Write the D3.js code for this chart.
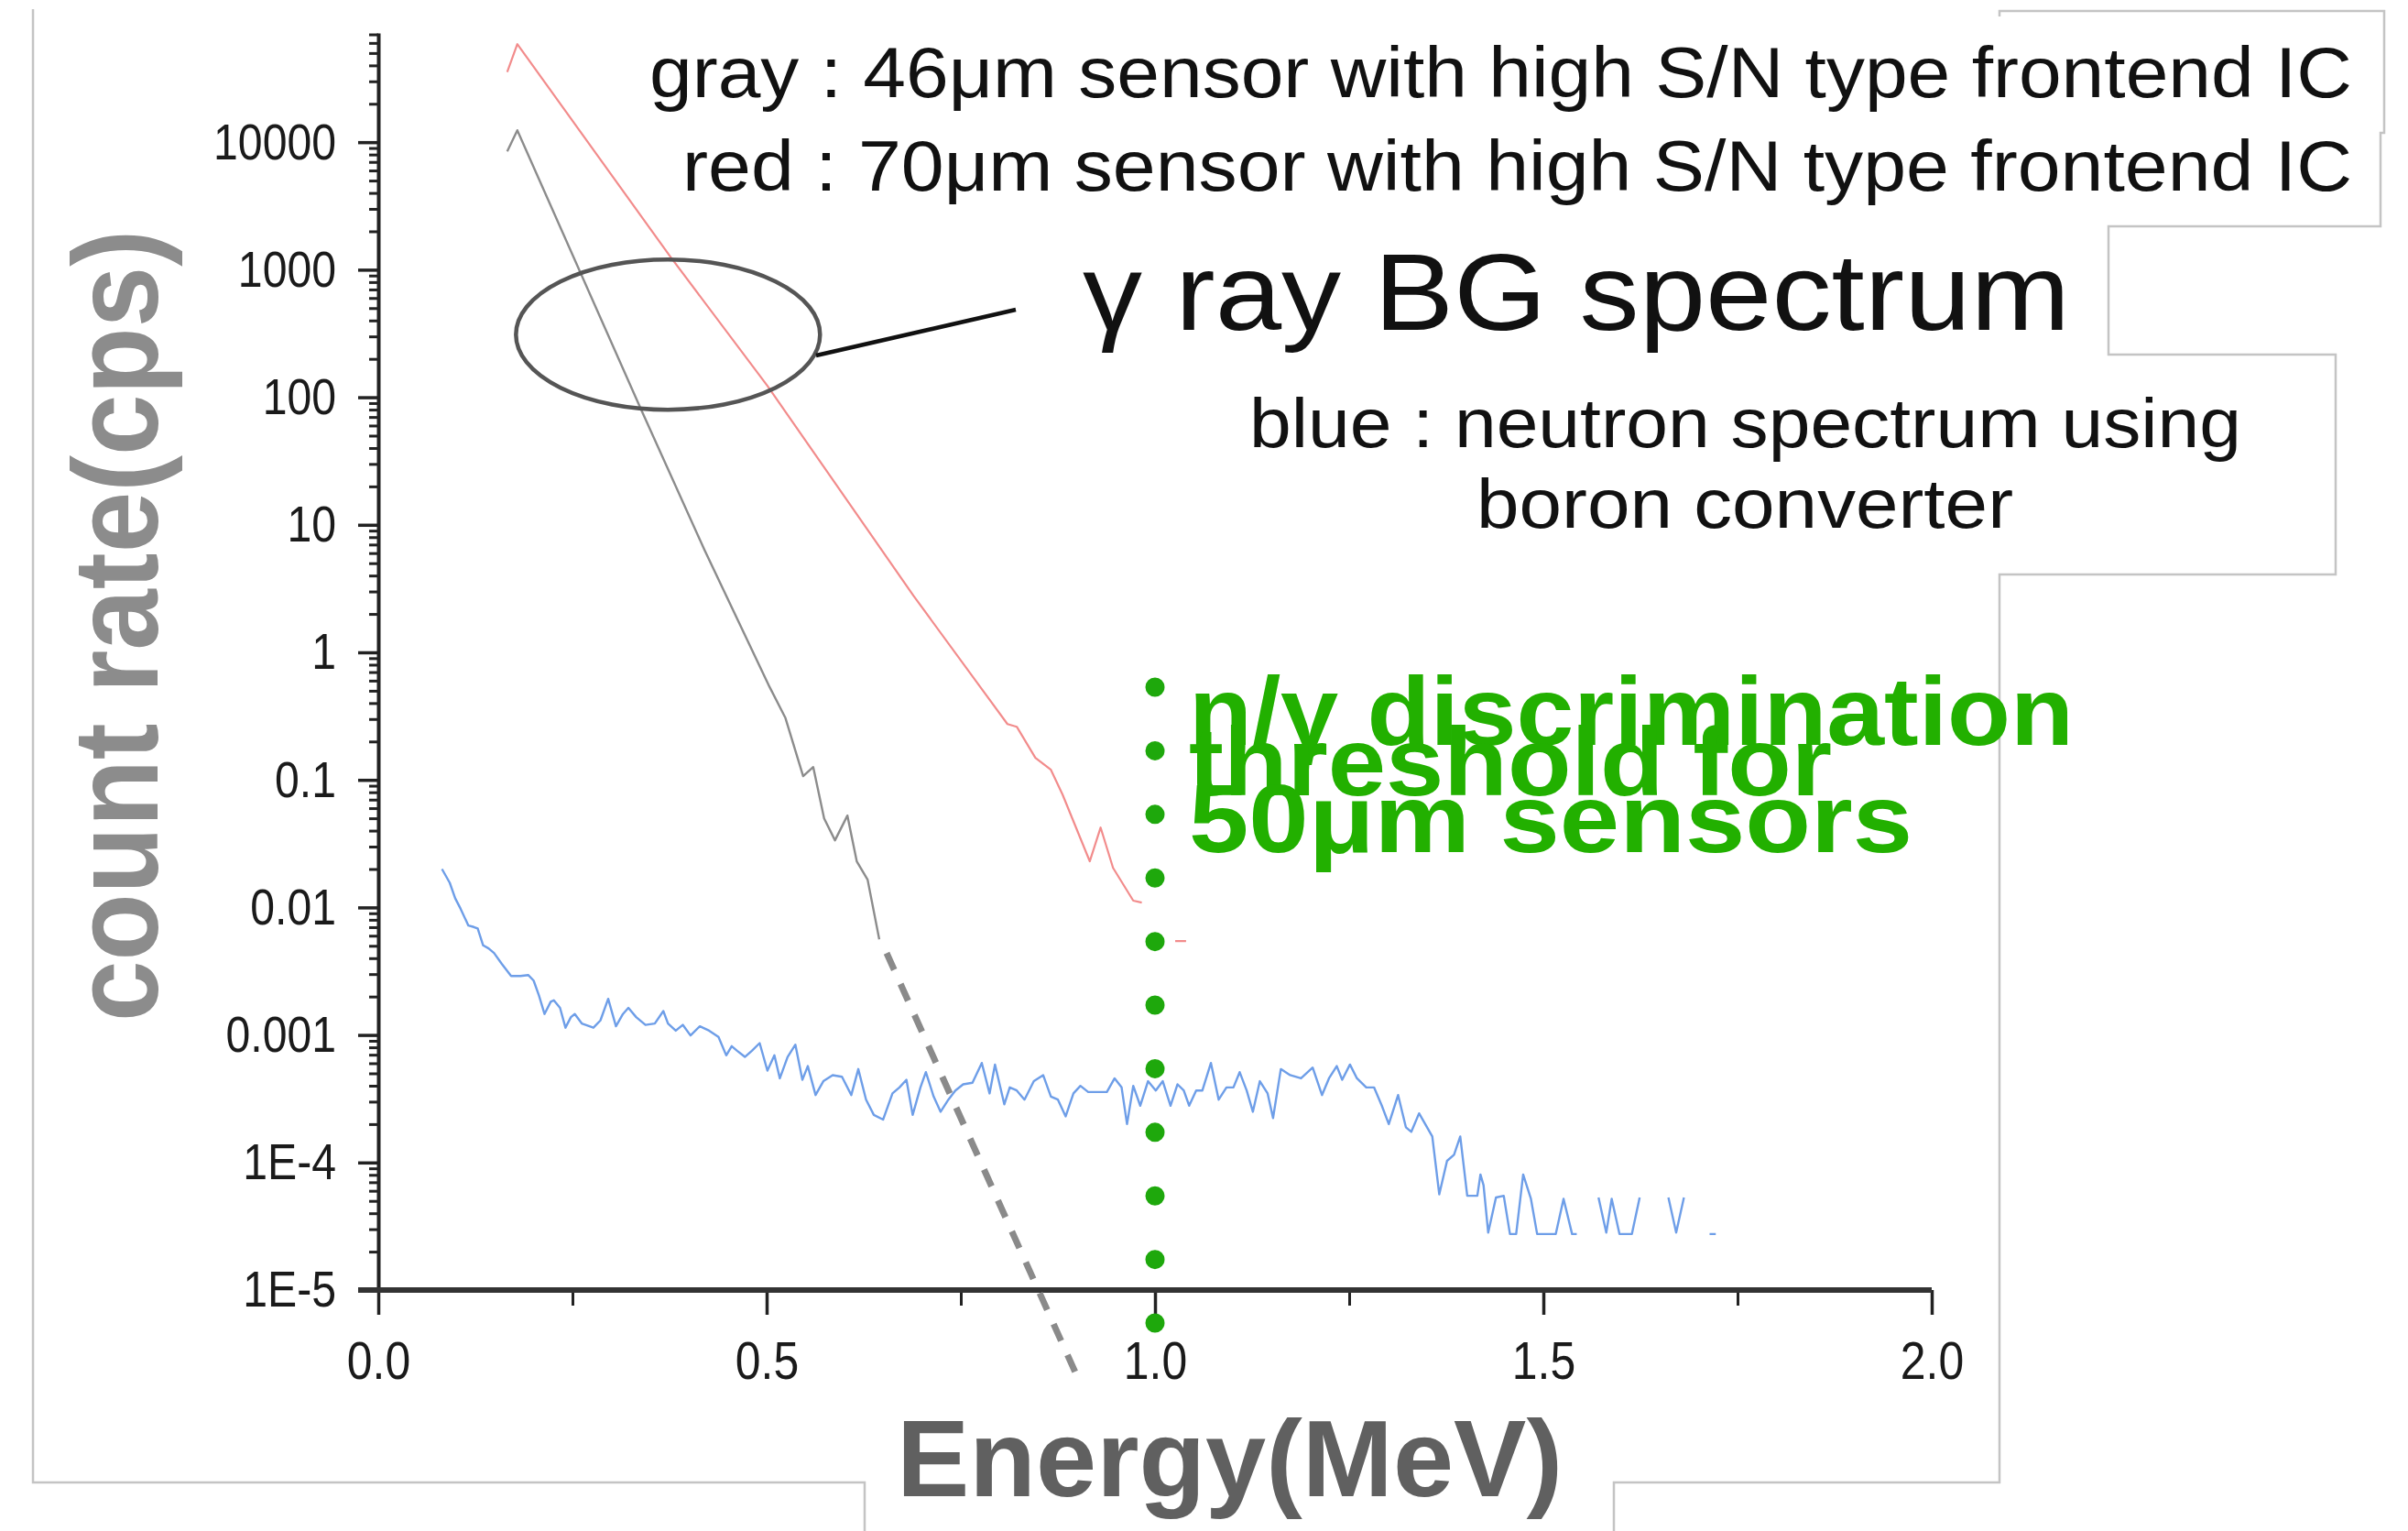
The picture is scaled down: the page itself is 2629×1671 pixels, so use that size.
<!DOCTYPE html>
<html>
<head>
<meta charset="utf-8">
<script src="https://cdn.jsdelivr.net/npm/d3@7"></script>
<style>
  html, body { margin: 0; padding: 0; background: #fff; }
  svg { display: block; }
  text { font-family: "Liberation Sans", Arial, Helvetica, sans-serif; }
</style>
</head>
<body>
<svg class="chart"></svg>
<script>
'use strict';

// axis ticks
var yTickValues = [1e4, 1e3, 100, 10, 1, 0.1, 0.01, 0.001, 1e-4, 1e-5];
var yTickLabels = ["10000", "1000", "100", "10", "1", "0.1", "0.01", "0.001", "1E-4", "1E-5"];
var xTickValues = [0, 0.5, 1.0, 1.5, 2.0];
var xTickLabels = ["0.0", "0.5", "1.0", "1.5", "2.0"];
var xMinorTicks = [0.25, 0.75, 1.25, 1.75];

// red : 70um sensor (energy MeV, count rate cps), null = gap
var red70 = [
    [0.166, 35500], [0.179, 58700], [0.376, 1265], [0.501, 123], [0.689, 2.78],
    [0.810, 0.274], [0.822, 0.261], [0.846, 0.149], [0.866, 0.120], [0.881, 0.0767],
    [0.916, 0.0230], [0.930, 0.0423], [0.946, 0.0204], [0.972, 0.0113], [0.983, 0.0109],
    null,
    [1.026, 0.00545], [1.040, 0.00545]
];

// gray : 46um sensor
var gray46 = [
    [0.166, 8470], [0.179, 12400], [0.338, 81.1], [0.420, 6.35], [0.504, 0.532],
    [0.524, 0.308], [0.547, 0.107], [0.560, 0.126], [0.574, 0.0499], [0.588, 0.0336],
    [0.604, 0.0525], [0.616, 0.0230], [0.630, 0.0165], [0.645, 0.00562]
];
// dashed extrapolation of the gray spectrum
var grayExtrapolation = [[0.6545, 0.00438], [0.8986, 2.18e-6]];

// blue : neutron spectrum using boron converter
var blueNeutron = [
    [0.082, 0.0200], [0.092, 0.0156], [0.099, 0.0118], [0.106, 0.00975], [0.116, 0.00721],
    [0.123, 0.00702], [0.128, 0.00683], [0.135, 0.00504], [0.142, 0.00477], [0.149, 0.00439],
    [0.159, 0.00361], [0.171, 0.00290], [0.183, 0.00290], [0.193, 0.00295], [0.200, 0.00267],
    [0.207, 0.00203], [0.214, 0.00146], [0.222, 0.00182], [0.226, 0.00187], [0.234, 0.00163],
    [0.241, 0.00114], [0.248, 0.00138], [0.253, 0.00146], [0.262, 0.00123], [0.277, 0.00114],
    [0.286, 0.00130], [0.296, 0.00192], [0.306, 0.00117], [0.315, 0.00146], [0.322, 0.00163],
    [0.332, 0.00138], [0.344, 0.00120], [0.356, 0.00123], [0.367, 0.00154], [0.373, 0.00123],
    [0.383, 0.00108], [0.392, 0.00120], [0.402, 0.000991], [0.414, 0.00117], [0.426, 0.00108],
    [0.438, 0.000964], [0.448, 0.000692], [0.455, 0.000817], [0.462, 0.000752], [0.472, 0.000673],
    [0.481, 0.000752], [0.491, 0.000863], [0.501, 0.000525], [0.510, 0.000692], [0.517, 0.000457],
    [0.527, 0.000673], [0.537, 0.000839], [0.546, 0.000445], [0.553, 0.000570], [0.563, 0.000338],
    [0.573, 0.000434], [0.585, 0.000484], [0.597, 0.000470], [0.609, 0.000338], [0.618, 0.000540],
    [0.628, 0.000311], [0.638, 0.000236], [0.650, 0.000217], [0.662, 0.000348], [0.671, 0.000388],
    [0.680, 0.000445], [0.688, 0.000236], [0.698, 0.000388], [0.705, 0.000511], [0.715, 0.000329],
    [0.724, 0.000250], [0.734, 0.000311], [0.743, 0.000367], [0.753, 0.000410], [0.765, 0.000422],
    [0.777, 0.000603], [0.787, 0.000348], [0.794, 0.000586], [0.806, 0.000286], [0.813, 0.000388],
    [0.822, 0.000367], [0.832, 0.000311], [0.844, 0.000434], [0.856, 0.000484], [0.866, 0.000329],
    [0.875, 0.000311], [0.885, 0.000230], [0.895, 0.000348], [0.904, 0.000399], [0.914, 0.000357],
    [0.938, 0.000357], [0.948, 0.000457], [0.957, 0.000388], [0.964, 0.000200], [0.972, 0.000399],
    [0.981, 0.000279], [0.991, 0.000434], [1.001, 0.000367], [1.010, 0.000434], [1.020, 0.000279],
    [1.029, 0.000410], [1.037, 0.000367], [1.044, 0.000279], [1.053, 0.000367], [1.061, 0.000367],
    [1.072, 0.000603], [1.082, 0.000311], [1.092, 0.000388], [1.101, 0.000388], [1.109, 0.000511],
    [1.118, 0.000367], [1.126, 0.000250], [1.135, 0.000434], [1.145, 0.000348], [1.152, 0.000223],
    [1.162, 0.000540], [1.174, 0.000484], [1.188, 0.000457], [1.203, 0.000555], [1.215, 0.000338],
    [1.224, 0.000457], [1.234, 0.000570], [1.241, 0.000445], [1.251, 0.000586], [1.260, 0.000457],
    [1.272, 0.000388], [1.282, 0.000388], [1.292, 0.000279], [1.301, 0.000200], [1.313, 0.000338],
    [1.323, 0.000189], [1.330, 0.000174], [1.340, 0.000243], [1.357, 0.000160], [1.366, 5.63e-5],
    [1.376, 0.000103], [1.385, 0.000115], [1.393, 0.000160], [1.402, 5.48e-5], [1.415, 5.48e-5],
    [1.419, 8.05e-5], [1.423, 6.64e-5], [1.429, 2.82e-5], [1.439, 5.32e-5], [1.449, 5.48e-5],
    [1.457, 2.75e-5], [1.465, 2.75e-5], [1.474, 8.05e-5], [1.484, 5.19e-5], [1.492, 2.75e-5],
    [1.516, 2.75e-5], [1.526, 5.19e-5], [1.537, 2.75e-5], [1.543, 2.75e-5],
    null,
    [1.571, 5.32e-5], [1.581, 2.82e-5], [1.588, 5.19e-5], [1.598, 2.75e-5], [1.614, 2.75e-5],
    [1.624, 5.32e-5],
    null,
    [1.661, 5.32e-5], [1.671, 2.82e-5], [1.681, 5.32e-5],
    null,
    [1.714, 2.75e-5], [1.722, 2.75e-5]
];

// n/gamma discrimination threshold (MeV) and the extent of its dotted line
var threshold = 1.0;
var thresholdSpan = [0.533, 5.5e-6];

// squeeze a text horizontally to look like a narrow face
function narrow(sel, f) {
    sel.each(function () {
        var w = this.getComputedTextLength();
        d3.select(this)
            .attr("textLength", w * f)
            .attr("lengthAdjust", "spacingAndGlyphs");
    });
}

function show() {
    var width = 2629, height = 1671;

    var svg = d3.select(".chart")
        .attr("width", width)
        .attr("height", height);

    svg.append("rect").attr("width", width).attr("height", height).attr("fill", "#fff");

    var x = d3.scaleLinear().domain([0, 2]).range([413, 2109]);
    var y = d3.scaleLog().domain([1e-5, 71800]).range([1408, 36]);

    // leftover frame lines of the pasted boxes
    var frame = [
        [[36, 10], [36, 1618], [944, 1618], [944, 1671]],
        [[1762, 1671], [1762, 1618], [2183, 1618], [2183, 627], [2550, 627], [2550, 387],
         [2302, 387], [2302, 247], [2599, 247], [2599, 145], [2603, 145], [2603, 12], [2183, 12], [2183, 18]]
    ];
    svg.append("g").selectAll("path").data(frame).enter()
        .append("path")
        .attr("d", d3.line())
        .attr("fill", "none")
        .attr("stroke", "#c4c4c4")
        .attr("stroke-width", 2.5);

    // y axis
    var minor = [];
    d3.range(-5, 5).forEach(function (e) {
        d3.range(2, 10).forEach(function (k) {
            var v = k * Math.pow(10, e);
            if (v <= 71800) minor.push(v);
        });
    });

    var yMinorAxis = svg.append("g")
        .attr("transform", "translate(413,0)")
        .call(d3.axisLeft(y).tickValues(minor).tickSize(10).tickFormat(""));
    yMinorAxis.select(".domain").remove();
    yMinorAxis.selectAll("line").attr("stroke", "#222").attr("stroke-width", 3);

    var yAxis = svg.append("g")
        .attr("transform", "translate(413,0)")
        .call(d3.axisLeft(y).tickValues(yTickValues).tickSize(22).tickSizeOuter(0).tickPadding(24)
            .tickFormat(function (d, i) { return yTickLabels[i]; }));
    yAxis.select(".domain").attr("stroke", "#222").attr("stroke-width", 4);
    yAxis.selectAll(".tick line").attr("stroke", "#222").attr("stroke-width", 3.5);
    yAxis.selectAll("text")
        .attr("font-size", 56)
        .attr("fill", "#1a1a1a")
        .call(narrow, 0.86);

    // x axis
    var xMinorAxis = svg.append("g")
        .attr("transform", "translate(0,1408)")
        .call(d3.axisBottom(x).tickValues(xMinorTicks).tickSize(17).tickFormat(""));
    xMinorAxis.select(".domain").remove();
    xMinorAxis.selectAll("line").attr("stroke", "#222").attr("stroke-width", 3);

    var xAxis = svg.append("g")
        .attr("transform", "translate(0,1408)")
        .call(d3.axisBottom(x).tickValues(xTickValues).tickSize(27).tickSizeOuter(0)
            .tickFormat(function (d, i) { return xTickLabels[i]; }));
    xAxis.select(".domain").remove();
    xAxis.selectAll(".tick line").attr("stroke", "#222").attr("stroke-width", 3.5);
    xAxis.selectAll("text")
        .attr("y", 97)
        .attr("dy", 0)
        .attr("font-size", 58)
        .attr("fill", "#1a1a1a")
        .call(narrow, 0.86);

    svg.append("line")
        .attr("x1", 391).attr("x2", x(2))
        .attr("y1", y(1e-5)).attr("y2", y(1e-5))
        .attr("stroke", "#333")
        .attr("stroke-width", 6);

    // spectra
    var line = d3.line()
        .defined(function (d) { return d !== null; })
        .x(function (d) { return x(d[0]); })
        .y(function (d) { return y(d[1]); });

    var series = [
        {data: blueNeutron, color: "#6e9ee8", width: 2.4},
        {data: gray46, color: "#8c8c8c", width: 2.4},
        {data: red70, color: "#f28c8c", width: 2.2}
    ];
    svg.append("g").selectAll("path").data(series).enter()
        .append("path")
        .attr("d", function (d) { return line(d.data); })
        .attr("fill", "none")
        .attr("stroke", function (d) { return d.color; })
        .attr("stroke-width", function (d) { return d.width; })
        .attr("stroke-linejoin", "round");

    svg.append("path")
        .attr("d", line(grayExtrapolation))
        .attr("fill", "none")
        .attr("stroke", "#8a8a8a")
        .attr("stroke-width", 7)
        .attr("stroke-dasharray", "20 17");

    // threshold dotted line
    svg.append("line")
        .attr("x1", x(threshold)).attr("x2", x(threshold))
        .attr("y1", y(thresholdSpan[0])).attr("y2", y(thresholdSpan[1]) + 1)
        .attr("stroke", "#1ea80c")
        .attr("stroke-width", 21)
        .attr("stroke-linecap", "round")
        .attr("stroke-dasharray", "0 69.4");

    // gamma ray BG annotation
    svg.append("ellipse")
        .attr("cx", x(0.373)).attr("cy", y(310))
        .attr("rx", 166).attr("ry", 82)
        .attr("fill", "none")
        .attr("stroke", "#555")
        .attr("stroke-width", 4.5);
    svg.append("line")
        .attr("x1", 891).attr("y1", 388)
        .attr("x2", 1109).attr("y2", 338)
        .attr("stroke", "#111")
        .attr("stroke-width", 4.5);

    var notes = [
        {text: "gray : 46\u03bcm sensor with high S/N type frontend IC", x: 709, y: 106, size: 78, len: 1859},
        {text: "red : 70\u03bcm sensor with high S/N type frontend IC", x: 745, y: 208, size: 78, len: 1823},
        {text: "\u03b3 ray BG spectrum", x: 1182, y: 360, size: 118, len: 1078},
        {text: "blue : neutron spectrum using", x: 1364, y: 488, size: 76, len: 1083},
        {text: "boron converter", x: 1612, y: 576, size: 76, len: 586}
    ];
    svg.append("g").selectAll("text").data(notes).enter()
        .append("text")
        .attr("x", function (d) { return d.x; })
        .attr("y", function (d) { return d.y; })
        .attr("font-size", function (d) { return d.size; })
        .attr("textLength", function (d) { return d.len; })
        .attr("lengthAdjust", "spacingAndGlyphs")
        .attr("fill", "#111")
        .text(function (d) { return d.text; });

    var greenNotes = [
        {text: "n/\u03b3 discrimination", y: 813, len: 966},
        {text: "threshold for", y: 868, len: 702},
        {text: "50\u03bcm sensors", y: 930, len: 790}
    ];
    svg.append("g").selectAll("text").data(greenNotes).enter()
        .append("text")
        .attr("x", 1298)
        .attr("y", function (d) { return d.y; })
        .attr("font-size", 106)
        .attr("font-weight", "bold")
        .attr("textLength", function (d) { return d.len; })
        .attr("lengthAdjust", "spacingAndGlyphs")
        .attr("fill", "#22b000")
        .text(function (d) { return d.text; });

    // axis titles
    svg.append("text")
        .attr("transform", "translate(172,683) rotate(-90)")
        .attr("text-anchor", "middle")
        .attr("font-size", 132)
        .attr("font-weight", "bold")
        .attr("textLength", 864)
        .attr("lengthAdjust", "spacingAndGlyphs")
        .attr("fill", "#8c8c8c")
        .text("count rate(cps)");

    svg.append("text")
        .attr("x", 979)
        .attr("y", 1633)
        .attr("font-size", 119)
        .attr("font-weight", "bold")
        .attr("textLength", 727)
        .attr("lengthAdjust", "spacingAndGlyphs")
        .attr("fill", "#606060")
        .text("Energy(MeV)");
}

show();
</script>
</body>
</html>
